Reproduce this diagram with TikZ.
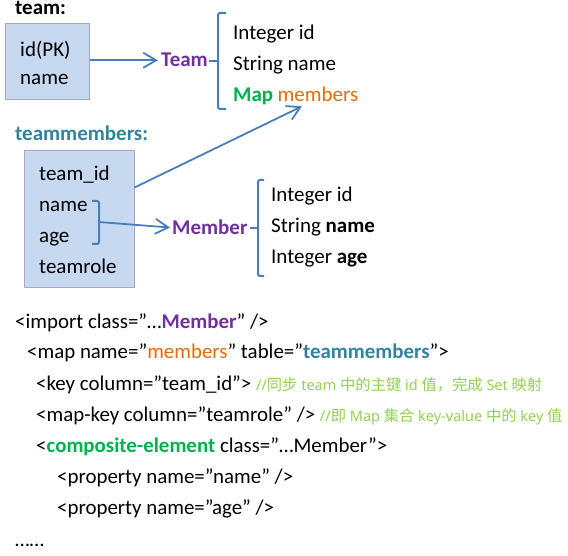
\documentclass[tikz,border=0pt]{standalone}
\usepackage{fontspec}
\setmainfont{Carlito}
\newfontfamily\cjk{Noto Sans CJK SC}
\newfontfamily\cmtlatin{Noto Sans}
\usetikzlibrary{arrows.meta, positioning}
\definecolor{boxfill}{RGB}{198,217,241}
\definecolor{boxborder}{RGB}{179,162,199}
\definecolor{linkblue}{RGB}{74,126,187}
\definecolor{clspurple}{RGB}{112,48,160}
\definecolor{mapgreen}{RGB}{0,176,80}
\definecolor{memorange}{RGB}{228,108,10}
\definecolor{tblteal}{RGB}{49,132,155}
\definecolor{cmtgreen}{RGB}{146,208,80}
\tikzset{
  txt/.style={anchor=base west, inner sep=0pt, font=\fontsize{21}{24}\selectfont},
  code/.style={txt, font=\fontsize{20.9}{24}\selectfont},
  tablebox/.style={rectangle, draw=boxborder, fill=boxfill, line width=1pt},
  arrow/.style={-{Straight Barb[length=13pt, width=15pt, line width=1.8pt]},
    line width=1.8pt, color=linkblue},
  brace/.style={line width=2pt, color=linkblue, rounded corners=2pt},
}
\newcommand{\cmt}[1]{{\cmtlatin\fontsize{14.5}{16}\selectfont\color{cmtgreen}#1}}
\newcommand{\zh}[1]{{\cjk\fontsize{15.3}{16}\selectfont #1}}

\begin{document}
\begin{tikzpicture}[x=1pt, y=-1pt]
  \useasboundingbox (0,0) rectangle (568,556);
  % table team
  \node[txt] (teamlbl) at (15,15) {\bfseries team:};
  \node[tablebox, minimum width=84pt, minimum height=76pt] (teambox) at (47,62) {};
  \node[txt] (tid) at (20,57) {id(PK)};
  \node[txt] (tname) at (20,85) {name};
  \node[txt, text=clspurple] (teamcls) at (161,67) {\bfseries Team};
  \draw[arrow, shorten >=3pt] (teambox.east |- teamcls.west) -- (teamcls.west);
  \draw[brace] (226,13) -- (218,13) -- (218,109) -- (226,109);
  \draw[brace] (209,61) -- (218,61);
  \node[txt] (tint) at (233,40) {Integer id};
  \node[txt] (tstr) at (233,71) {String name};
  \node[txt, text=mapgreen] (tmap) at (233,102) {\bfseries Map};
  \node[txt, text=memorange] (tmem) at ([xshift=4pt]tmap.base east) {members};

  % table teammembers
  \node[txt, text=tblteal] (tmlbl) at (15,141) {\bfseries teammembers:};
  \node[tablebox, minimum width=110pt, minimum height=137pt] (tmbox) at (79,219.5) {};
  \node[txt] (mteam) at (39,181) {team\_id};
  \node[txt] (mname) at (39,212) {name};
  \node[txt] (mage) at (39,243) {age};
  \node[txt] (mrole) at (39,274) {teamrole};
  \draw[brace] (92,201) -- (99,201) -- (99,244) -- (92,244);
  \coordinate (agenub) at (99,222);
  \node[txt, text=clspurple] (memcls) at (172,235) {\bfseries Member};
  \draw[arrow, shorten >=2pt] (agenub) -- (memcls.west);
  \draw[arrow] ([yshift=32pt]tmbox.east) -- ([xshift=-16pt, yshift=-4pt]tmem.south);
  \draw[brace] (264,180) -- (258,180) -- (258,276) -- (264,276);
  \draw[brace] (250,228) -- (258,228);
  \node[txt] (mint) at (271,202) {Integer id};
  \node[txt] (mstr) at (271,233) {String \textbf{name}};
  \node[txt] (mag) at (271,264) {Integer \textbf{age}};

  % mapping code
  \node[code] (c1) at (15,328) {<import class=”…\textcolor{clspurple}{\bfseries Member}” />};
  \node[code] (c2) at (27,359) {<map name=”\textcolor{memorange}{members}” table=”\textcolor{tblteal}{\bfseries teammembers}”>};
  \node[code] (c3) at (36,390) {<key column=”team\_id”> \cmt{//\zh{同步} team \zh{中的主键} id \zh{值，完成} Set \zh{映射}}};
  \node[code] (c4) at (36,421) {<map-key column=”teamrole” /> \cmt{//\zh{即} Map \zh{集合} key-value \zh{中的} key \zh{值}}};
  \node[code] (c5) at (36,452) {<\textcolor{mapgreen}{\bfseries composite-element} class=”…Member”>};
  \node[code] (c6) at (57,483) {<property name=”name” />};
  \node[code] (c7) at (57,514) {<property name=”age” />};
  \node[code] (c8) at (15,546) {……};
\end{tikzpicture}
\end{document}
